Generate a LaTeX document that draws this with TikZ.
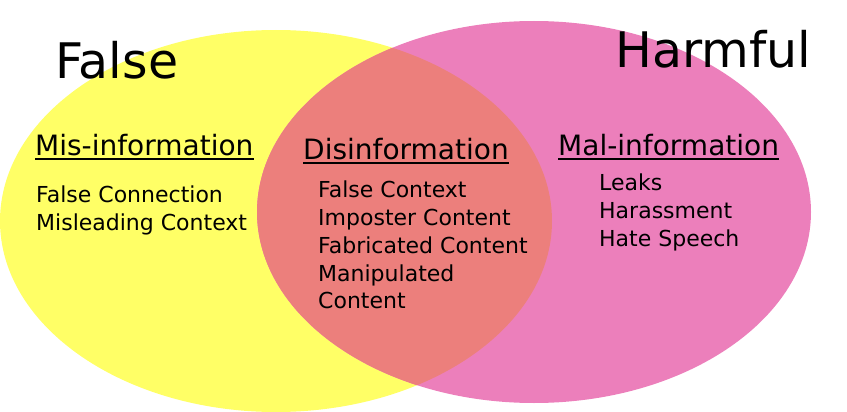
\documentclass[tikz,border=0pt]{standalone}
\usepackage{fontspec}
\setmainfont{DejaVu Sans}
\definecolor{yelc}{RGB}{255,255,102}
\definecolor{pinkc}{RGB}{236,127,187}
\definecolor{overc}{RGB}{236,127,124}
\tikzset{
  bigtitle/.style={anchor=base west,inner sep=0pt,font=\fontsize{49}{52}\selectfont},
  headtxt/.style={anchor=base west,inner sep=0pt,font=\fontsize{28}{30}\selectfont},
  itemtxt/.style={anchor=base west,inner sep=0pt,font=\fontsize{22}{24}\selectfont},
  uline/.style={line width=1.4pt}
}
\begin{document}
\begin{tikzpicture}[x=1pt,y=-1pt]
\useasboundingbox (0,0) rectangle (847,412);
\fill[yelc] (276,221) ellipse [x radius=276pt, y radius=191pt];
\fill[pinkc] (534,212) ellipse [x radius=277pt, y radius=191pt];
\begin{scope}
  \clip (276,221) ellipse [x radius=276pt, y radius=191pt];
  \fill[overc] (534,212) ellipse [x radius=277pt, y radius=191pt];
\end{scope}
\node[bigtitle] (false) at (55,78) {False};
\node[bigtitle] (harm) at (615,68) {Harmful};
\node[headtxt] (mis) at (35,155) {Mis-information};
\node[headtxt] (dis) at (303,159) {Disinformation};
\node[headtxt] (mal) at (558,155) {Mal-information};
\foreach \n in {mis,dis,mal}
  \draw[uline] ([yshift=-4pt]\n.base west) -- ([yshift=-4pt]\n.base east);
\node[itemtxt] (m1) at (36,202) {False Connection};
\node[itemtxt] (m2) at (36,230) {Misleading Context};
\node[itemtxt] (d1) at (318,197) {False Context};
\node[itemtxt] (d2) at (318,225) {Imposter Content};
\node[itemtxt] (d3) at (318,253) {Fabricated Content};
\node[itemtxt] (d4) at (318,281) {Manipulated};
\node[itemtxt] (d5) at (318,308) {Content};
\node[itemtxt] (h1) at (599,190) {Leaks};
\node[itemtxt] (h2) at (599,218) {Harassment};
\node[itemtxt] (h3) at (599,246) {Hate Speech};
\end{tikzpicture}
\end{document}
